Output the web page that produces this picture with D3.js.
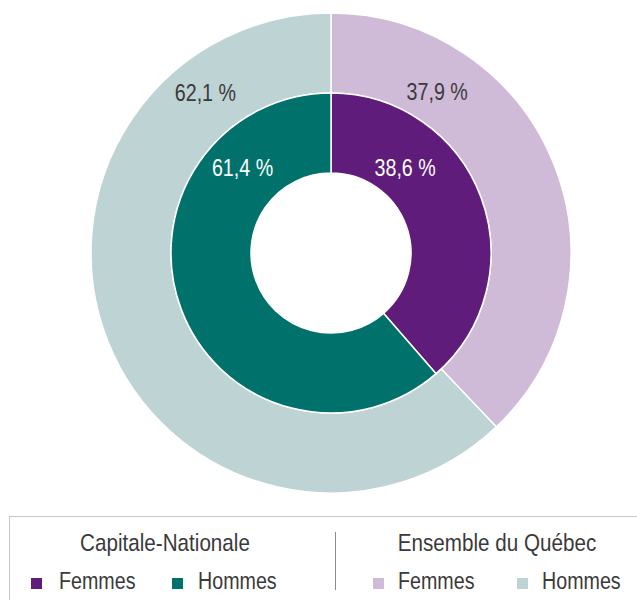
<!DOCTYPE html>
<html>
<head>
<meta charset="utf-8">
<script src="https://cdn.jsdelivr.net/npm/d3@7"></script>
<style>
  body { margin: 0; background: #fff; }
  svg { display: block; font-family: "Liberation Sans Narrow", "Arial Narrow", "Liberation Sans", Arial, sans-serif; }
</style>
</head>
<body>
<div id="chart"></div>
<script>
// Data
const categories = ["Femmes", "Hommes"];
const capitaleNationale = [38.6, 61.4];   // inner ring
const ensembleQuebec = [37.9, 62.1];      // outer ring

const innerColors = ["#601c7a", "#00726b"];
const outerColors = ["#cfbbd8", "#bed3d4"];

const width = 637, height = 600;
const cx = 331, cy = 253;
// no narrow font installed, so squeeze regular sans horizontally
const squeeze = 0.82;

const svg = d3.select("#chart")
    .append("svg")
    .attr("width", width)
    .attr("height", height);

const g = svg.append("g")
    .attr("transform", `translate(${cx},${cy})`);

const pie = d3.pie().sort(null).value(d => d);

const outerArc = d3.arc().innerRadius(160).outerRadius(240);
const innerArc = d3.arc().innerRadius(80).outerRadius(160);

// label placement: angle from 12 o'clock boundary (deg) and radius
const fmt = v => v.toFixed(1).replace(".", ",") + " %";
function labelPos(d, i, r, offsets) {
    const a = i === 0 ? d.startAngle + offsets[0] * Math.PI / 180
                      : d.endAngle - offsets[1] * Math.PI / 180;
    return [r[i] * Math.sin(a), -r[i] * Math.cos(a)];
}

// Outer ring: Ensemble du Québec
const outerData = pie(ensembleQuebec);
g.selectAll(".outer")
    .data(outerData)
    .enter()
    .append("path")
    .attr("class", "outer")
    .attr("d", outerArc)
    .style("fill", (d, i) => outerColors[i])
    .style("stroke", "#fff")
    .style("stroke-width", 1.5);

// Inner ring: Capitale-Nationale
const innerData = pie(capitaleNationale);
g.selectAll(".inner")
    .data(innerData)
    .enter()
    .append("path")
    .attr("class", "inner")
    .attr("d", innerArc)
    .style("fill", (d, i) => innerColors[i])
    .style("stroke", "#fff")
    .style("stroke-width", 1.5);

// Labels
g.selectAll(".outer-label")
    .data(outerData)
    .enter()
    .append("text")
    .attr("class", "outer-label")
    .attr("transform", (d, i) => `translate(${labelPos(d, i, [193, 204], [33.4, 38])}) scale(${squeeze},1)`)
    .attr("dy", "0.35em")
    .style("text-anchor", "middle")
    .style("font-size", "24px")
    .style("fill", "#3a3a3a")
    .text(d => fmt(d.data));

g.selectAll(".inner-label")
    .data(innerData)
    .enter()
    .append("text")
    .attr("class", "inner-label")
    .attr("transform", (d, i) => `translate(${labelPos(d, i, [113, 123], [41, 46])}) scale(${squeeze},1)`)
    .attr("dy", "0.35em")
    .style("text-anchor", "middle")
    .style("font-size", "24px")
    .style("fill", "#fff")
    .text(d => fmt(d.data));

// Legend
const legend = svg.append("g");

legend.append("rect")
    .attr("x", 9.5)
    .attr("y", 516.5)
    .attr("width", 640)
    .attr("height", 100)
    .style("fill", "none")
    .style("stroke", "#c8c8c8")
    .style("stroke-width", 1);

legend.append("line")
    .attr("x1", 335.5).attr("x2", 335.5)
    .attr("y1", 532).attr("y2", 590)
    .style("stroke", "#8c8c8c")
    .style("stroke-width", 1);

const groups = [
    { title: "Capitale-Nationale", center: 165, colors: innerColors, sq: [31, 172], tx: [59, 198] },
    { title: "Ensemble du Québec", center: 497, colors: outerColors, sq: [373, 517], tx: [398, 542] }
];

groups.forEach(gr => {
    legend.append("text")
        .attr("transform", `translate(${gr.center},551) scale(0.86,1)`)
        .style("text-anchor", "middle")
        .style("font-size", "24px")
        .style("fill", "#3a3a3a")
        .text(gr.title);

    categories.forEach((c, i) => {
        legend.append("rect")
            .attr("x", gr.sq[i])
            .attr("y", 578)
            .attr("width", 11)
            .attr("height", 11)
            .style("fill", gr.colors[i]);
        legend.append("text")
            .attr("transform", `translate(${gr.tx[i]},589) scale(${squeeze},1)`)
            .style("font-size", "24px")
            .style("fill", "#3a3a3a")
            .text(c);
    });
});
</script>
</body>
</html>
